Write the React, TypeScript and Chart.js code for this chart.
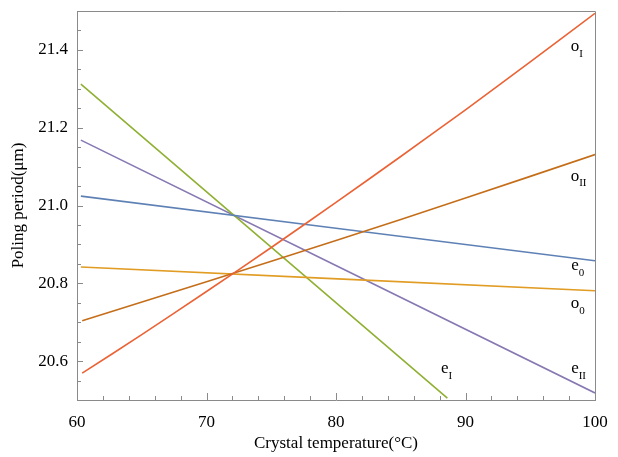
import React, { useEffect, useRef } from "react";
import { Chart, registerables } from "chart.js";

Chart.register(...registerables);

// Crystal temperature (°C) / poling period (µm) for each curve
const oI_T = [60.4, 65, 70, 75, 80, 85, 90, 95, 100];
const oI_P = [20.569, 20.668, 20.779, 20.892, 21.008, 21.126, 21.246, 21.369, 21.494];
const oII_T = [60.4, 70, 80, 90, 100];
const oII_P = [20.704, 20.804, 20.91, 21.019, 21.131];
const e0_T = [60.3, 100];
const e0_P = [21.024, 20.858];
const o0_T = [60.3, 100];
const o0_P = [20.842, 20.781];
const eI_T = [60.3, 88.6];
const eI_P = [21.312, 20.505];
const eII_T = [60.3, 100];
const eII_P = [21.168, 20.518];

const curveNames = ["oI", "oII", "e0", "o0", "eI", "eII"];
const curveColors = ["#EB6235", "#C56E1A", "#5E81B5", "#E19C24", "#8FB032", "#8778B3"];

// curve labels: main letter, subscript, position in data coordinates
const labelMain = ["o", "o", "e", "o", "e", "e"];
const labelSub = ["I", "II", "0", "0", "I", "II"];
const labelT = [98.45, 98.45, 98.45, 98.45, 88.4, 98.45];
const labelP = [21.408, 21.075, 20.845, 20.747, 20.58, 20.58];

const X_MIN = 60, X_MAX = 100, X_STEP = 2, X_MAJOR = 10;
const Y_MIN = 20.5, Y_MAX = 21.5, Y_STEP = 0.05, Y_MAJOR = 0.2;

const FONT = "'Liberation Serif', 'Times New Roman', serif";
const AXIS_GREY = "#8a8a8a";

const isMultiple = (v: number, m: number) => Math.abs(v / m - Math.round(v / m)) < 1e-6;

const pts = (t: number[], p: number[]) => t.map((x, i) => ({ x, y: p[i] }));

const framePlugin = {
  id: "frameTicksLabels",
  afterDatasetsDraw(chart: any) {
    const { ctx, chartArea: a, scales } = chart;
    const xs = scales.x, ys = scales.y;
    ctx.save();
    ctx.strokeStyle = AXIS_GREY;
    ctx.lineWidth = 1;
    // frame
    ctx.beginPath();
    ctx.moveTo(a.left, a.top + 0.5);
    ctx.lineTo(a.right + 0.5, a.top + 0.5);
    ctx.lineTo(a.right + 0.5, a.bottom);
    ctx.stroke();
    // x ticks (inward)
    xs.ticks.forEach((t: any) => {
      const px = Math.round(xs.getPixelForValue(t.value)) + 0.5;
      const len = isMultiple(t.value, X_MAJOR) ? 7 : 4;
      ctx.beginPath();
      ctx.moveTo(px, a.bottom);
      ctx.lineTo(px, a.bottom - len);
      ctx.stroke();
    });
    // y ticks (inward)
    ys.ticks.forEach((t: any) => {
      const py = Math.round(ys.getPixelForValue(t.value)) + 0.5;
      const len = isMultiple(t.value, Y_MAJOR) ? 6 : 4;
      ctx.beginPath();
      ctx.moveTo(a.left, py);
      ctx.lineTo(a.left + len, py);
      ctx.stroke();
    });
    // curve labels
    ctx.fillStyle = "#000";
    labelMain.forEach((m, i) => {
      const px = xs.getPixelForValue(labelT[i]);
      const py = ys.getPixelForValue(labelP[i]);
      ctx.font = `17px ${FONT}`;
      ctx.textAlign = "center";
      ctx.textBaseline = "middle";
      ctx.fillText(m, px, py);
      const w = ctx.measureText(m).width;
      ctx.font = `11px ${FONT}`;
      ctx.textAlign = "left";
      ctx.fillText(labelSub[i], px + w / 2, py + 7);
    });
    ctx.restore();
  },
};

export default function App() {
  const ref = useRef<HTMLCanvasElement>(null);
  useEffect(() => {
    if (!ref.current) return;
    const series = [
      pts(oI_T, oI_P),
      pts(oII_T, oII_P),
      pts(e0_T, e0_P),
      pts(o0_T, o0_P),
      pts(eI_T, eI_P),
      pts(eII_T, eII_P),
    ];
    const chart = new Chart(ref.current, {
      type: "line",
      data: {
        datasets: series.map((d, i) => ({
          label: curveNames[i],
          data: d,
          borderColor: curveColors[i],
          backgroundColor: curveColors[i],
          borderWidth: 1.6,
          pointRadius: 0,
          tension: 0.3,
          fill: false,
        })),
      },
      options: {
        animation: false,
        responsive: true,
        maintainAspectRatio: false,
        layout: { padding: { left: 0, top: 11, right: 23, bottom: 0 } },
        plugins: { legend: { display: false }, tooltip: { enabled: false } },
        scales: {
          x: {
            type: "linear",
            min: X_MIN,
            max: X_MAX,
            afterFit: (s: any) => { s.height = 57; s.paddingLeft = 0; s.paddingRight = 0; },
            border: { color: AXIS_GREY, width: 1 },
            grid: { drawOnChartArea: false, drawTicks: false },
            ticks: {
              stepSize: X_STEP,
              autoSkip: false,
              maxRotation: 0,
              padding: 12,
              color: "#000",
              font: { family: FONT, size: 17 },
              callback: (v: any) => (isMultiple(Number(v), X_MAJOR) ? String(Math.round(Number(v))) : ""),
            },
            title: {
              display: true,
              text: "Crystal temperature(°C)",
              color: "#000",
              font: { family: FONT, size: 17 },
              padding: { top: 0, bottom: 3 },
            },
          },
          y: {
            type: "linear",
            min: Y_MIN,
            max: Y_MAX,
            afterFit: (s: any) => { s.width = 77; s.paddingTop = 0; s.paddingBottom = 0; },
            border: { color: AXIS_GREY, width: 1 },
            grid: { drawOnChartArea: false, drawTicks: false },
            ticks: {
              stepSize: Y_STEP,
              autoSkip: false,
              padding: 9,
              color: "#000",
              font: { family: FONT, size: 17 },
              callback: (v: any) => (isMultiple(Number(v), Y_MAJOR) ? Number(v).toFixed(1) : ""),
            },
            title: {
              display: true,
              text: "Poling period(μm)",
              color: "#000",
              font: { family: FONT, size: 17 },
              padding: { top: 8, bottom: 0 },
            },
          },
        },
      },
      plugins: [framePlugin],
    });
    return () => chart.destroy();
  }, []);
  return (
    <div style={{ position: "fixed", left: 0, top: 0, width: 618, height: 457, background: "#fff" }}>
      <canvas ref={ref} />
    </div>
  );
}
